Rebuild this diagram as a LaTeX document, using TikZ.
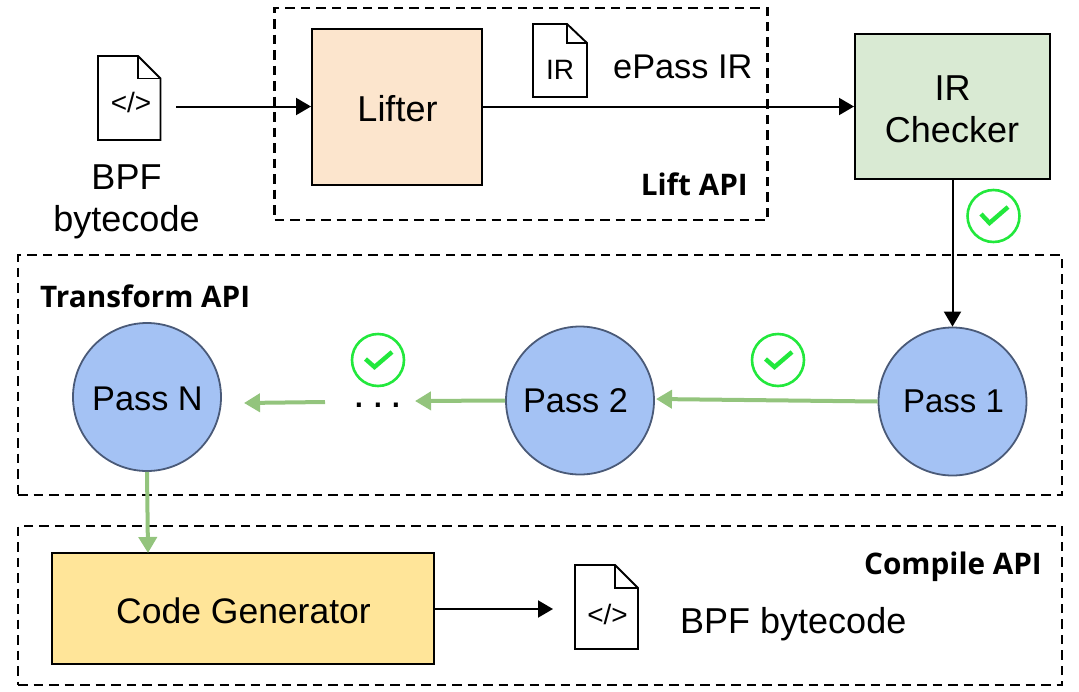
\documentclass[tikz,border=0pt]{standalone}
\usepackage{fontspec}
\setmainfont{Liberation Sans}
\newfontfamily\boldlabel{Open Sans}
\usetikzlibrary{arrows.meta}
\definecolor{liftfill}{HTML}{FCE5CD}
\definecolor{checkfill}{HTML}{D9EAD3}
\definecolor{passfill}{HTML}{A4C2F4}
\definecolor{passedge}{HTML}{4A5A78}
\definecolor{genfill}{HTML}{FFE599}
\definecolor{flowgreen}{HTML}{93C47D}
\definecolor{okgreen}{HTML}{22E83C}
\tikzset{
  x=1pt,y=-1pt,
  apibox/.style={draw=black,line width=2.1pt,dash pattern=on 9.5pt off 6pt},
  block/.style={draw=black,line width=2pt,inner sep=0pt},
  passnode/.style={circle,draw=passedge,fill=passfill,line width=1.8pt,minimum size=148pt,inner sep=0pt},
  label/.style={inner sep=0pt,anchor=base,font=\fontsize{36}{42}\selectfont,text=black},
  smalllabel/.style={label,font=\fontsize{34.3}{42}\selectfont},
  apilabel/.style={inner sep=0pt,font=\boldlabel\bfseries\fontsize{29.7}{34}\selectfont},
  doctext/.style={inner sep=0pt,font=\fontsize{28}{30}\selectfont},
  docline/.style={draw=black,fill=white,line width=1.9pt,line join=miter},
  flow/.style={draw=black,line width=2pt,-{Triangle[length=15pt,width=17pt]}},
  greenflow/.style={draw=flowgreen,line width=4pt,-{Triangle[length=16pt,width=18pt,flowgreen]}},
  okring/.style={circle,draw=okgreen,fill=white,line width=2.6pt,minimum size=52pt,inner sep=0pt},
  oktick/.style={draw=okgreen,line width=4.4pt,line join=miter}
}
\begin{document}
\begin{tikzpicture}
\useasboundingbox (0,0) rectangle (1079,691);
% API frames
\node[apibox,minimum width=493pt,minimum height=212pt,inner sep=0pt] (liftapi) at (521,114) {};
\node[apibox,minimum width=1044pt,minimum height=240pt,inner sep=0pt] (transformapi) at (540,375) {};
\node[apibox,minimum width=1044pt,minimum height=159pt,inner sep=0pt] (compileapi) at (540,605.5) {};
\node[apilabel,anchor=east] (liftlabel) at (748,184) {Lift API};
\node[apilabel,anchor=west] (transformlabel) at (40,296) {Transform API};
\node[apilabel,anchor=east] (compilelabel) at (1042,567) {Compile API};
% Blocks
\node[block,fill=liftfill,minimum width=170pt,minimum height=156pt] (lifter) at (397,106.5) {};
\node[block,fill=checkfill,minimum width=195pt,minimum height=145pt] (checker) at (952.5,106.5) {};
\node[block,fill=genfill,minimum width=382pt,minimum height=111pt] (codegen) at (243,608.5) {};
\node[label] (liftertext) at (397.5,121.5) {Lifter};
\node[label] (irtext) at (952.5,100) {IR};
\node[label] (checkertext) at (952,142.5) {Checker};
\node[label,font=\fontsize{35.5}{42}\selectfont] (gentext) at (243.5,623) {Code Generator};
% Passes
\node[passnode] (pass1) at (952.5,401.5) {};
\node[passnode] (pass2) at (580,400.5) {};
\node[passnode] (passn) at (147,397) {};
\node[smalllabel,font=\fontsize{33}{40}\selectfont] (passonetext) at (953.5,412.5) {Pass 1};
\node[smalllabel] (passtwotext) at (575.5,412) {Pass 2};
\node[smalllabel] (passntext) at (147.5,410) {Pass N};
% Document icons
\draw[docline] (98,56) -- (138,56) -- (160.5,78.5) -- (160.5,140) -- (98,140) -- cycle;
\draw[line width=1.9pt] (138,56) -- (138,78.5) -- (160.5,78.5);
\node[doctext] (docone) at (131,102) {</>};
\draw[docline] (533,24) -- (567,24) -- (587,43) -- (587,97) -- (533,97) -- cycle;
\draw[line width=1.9pt] (567,24) -- (567,43) -- (587,43);
\node[doctext] (doctwo) at (560,70) {IR};
\draw[docline] (575,565) -- (615,565) -- (638,588) -- (638,649) -- (575,649) -- cycle;
\draw[line width=1.9pt] (615,565) -- (615,588) -- (638,588);
\node[doctext] (docthree) at (607.5,614) {</>};
% Labels
\node[label] (bpfin) at (126.5,189.5) {BPF};
\node[label] (bytecodein) at (126.5,231) {bytecode};
\node[smalllabel,anchor=base west] (epass) at (613,78) {ePass IR};
\node[label,anchor=base west] (bpfout) at (680,633) {BPF bytecode};
\node[inner sep=0pt,anchor=base,font=\fontsize{42}{44}\selectfont] (dots) at (378,407) {.\hspace{7pt}.\hspace{7pt}.};
% Free ends
\coordinate (inputstart) at (176,106.5);
\coordinate (codegenin) at (148,553);
\coordinate (genout) at (553,609);
\coordinate (genstart) at (434,609);
\coordinate (dotsleft) at (325,402);
\coordinate (nearn) at (244,403);
\coordinate (neardots) at (415,401);
\coordinate (nearp2) at (656,399);
% Connectors
\draw[flow] (inputstart) -- (lifter.west);
\draw[flow] (lifter.east) -- (checker.west);
\draw[flow] (checker.south) -- (pass1.north);
\draw[flow] (genstart) -- (genout);
\draw[greenflow] (pass1.west) -- (nearp2);
\draw[greenflow] (pass2.west) -- (neardots);
\draw[greenflow] (dotsleft) -- (nearn);
\draw[greenflow] (passn.south) -- (codegenin);
% Check marks
\node[okring] (okone) at (993.5,216) {};
\node[okring] (oktwo) at (778,360) {};
\node[okring] (okthree) at (378,360) {};
\draw[oktick] (981,214) -- (989.5,223) -- (1008,207);
\draw[oktick] (765.5,359) -- (774.5,367) -- (792,352);
\draw[oktick] (365.5,359) -- (374.5,367) -- (392,352);
\end{tikzpicture}
\end{document}
